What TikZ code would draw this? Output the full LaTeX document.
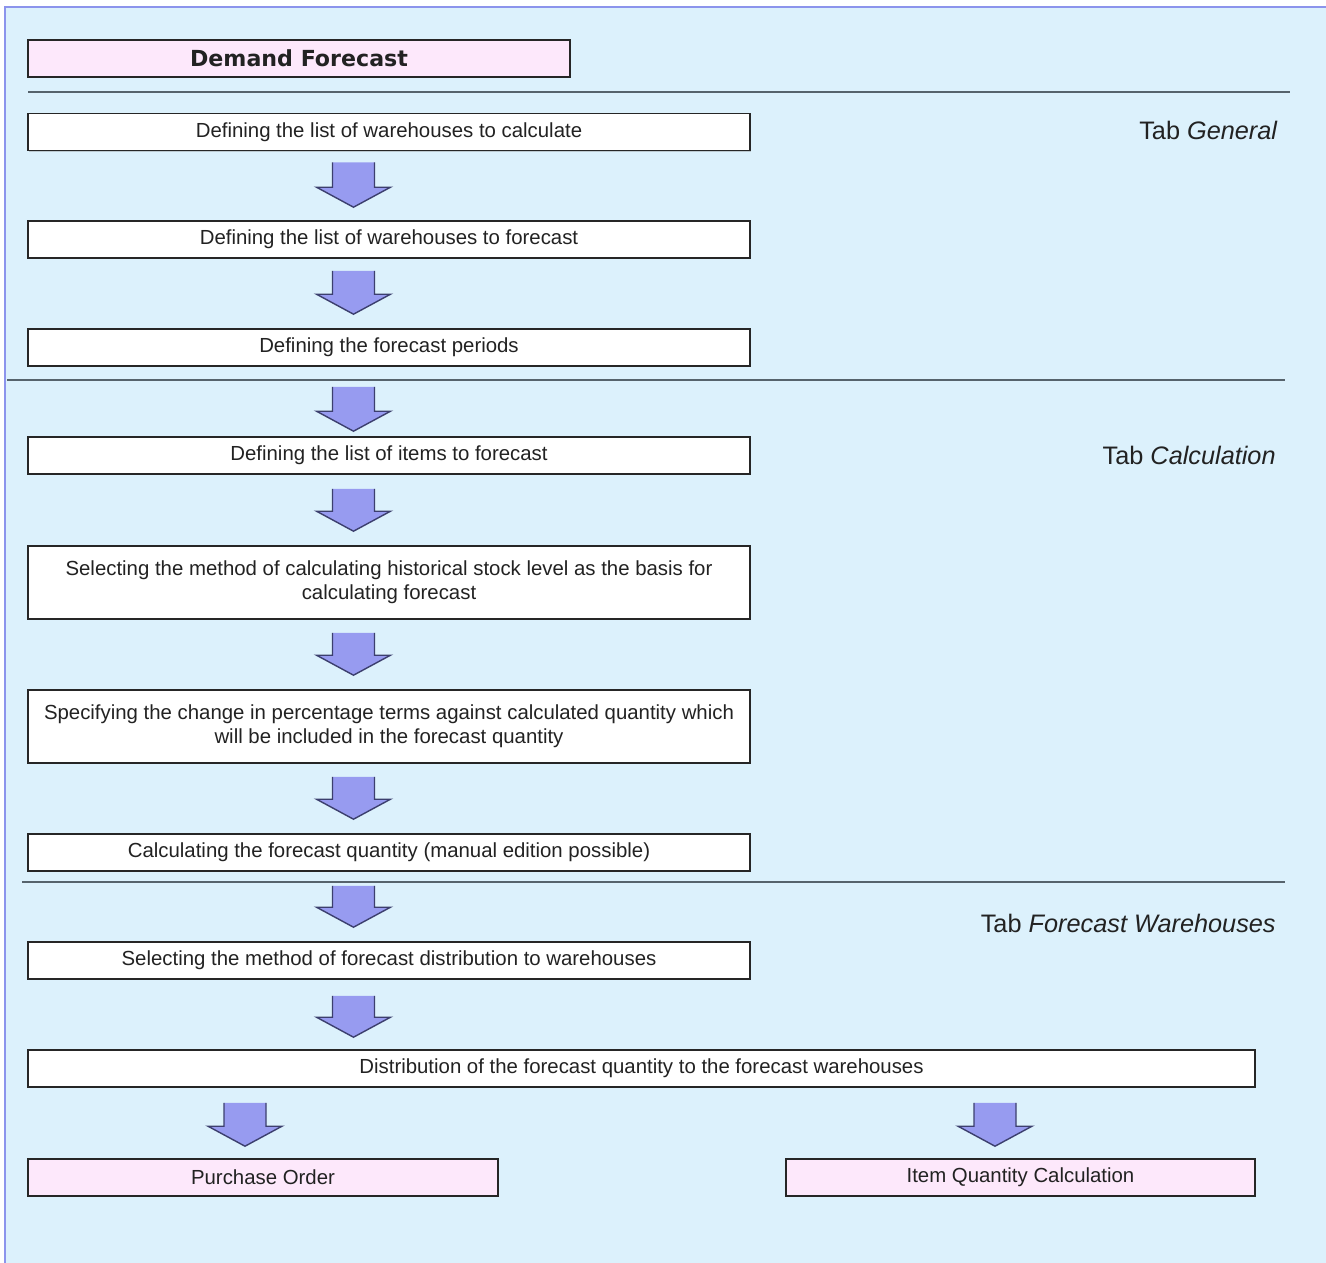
\documentclass[tikz,border=0pt]{standalone}
\usepackage{fontspec}
\setmainfont{Liberation Sans}
\newfontfamily\titlefont{DejaVu Sans}
\usepackage{xcolor}
\usetikzlibrary{calc, positioning, shadows}

\definecolor{bgblue}{HTML}{DCF1FC}
\definecolor{framebl}{HTML}{8C94EC}
\definecolor{pinkfill}{HTML}{FDE8FB}
\definecolor{arrfill}{HTML}{979BF0}
\definecolor{arrline}{HTML}{3C3F6E}
\definecolor{rulegray}{HTML}{56636C}
\definecolor{txtgray}{HTML}{222222}

\tikzset{
  taskbox/.style={draw=black!85, line width=0.9pt, fill=white, text=txtgray,
    minimum width={#1*0.02cm}, minimum height={37*0.02cm}, inner sep=2pt,
    align=center, font=\fontsize{11.6}{13.6}\selectfont,
    drop shadow={shadow xshift=0.5pt, shadow yshift=-0.8pt, opacity=0.35}},
  taskbox/.default=722,
  endbox/.style={taskbox=#1, fill=pinkfill},
  endbox/.default=470,
  tablabel/.style={anchor=east, text=txtgray, inner sep=0pt,
    font=\fontsize{14.4}{16}\selectfont},
  arrbody/.style={fill=arrfill},
  arredge/.style={draw=arrline, line width=0.8pt, line join=miter},
  sepline/.style={draw=rulegray, line width=1.7pt},
}

% block arrow: from node #1 down to node #2, in column #3, gaps #4 and #5 (px)
\newcommand{\flowarrow}[5]{%
  \coordinate (s) at ($(#1.south -| #3)+(0,#4)$);
  \coordinate (t) at ($(#2.north -| #3)+(0,-#5)$);
  \fill[arrbody] ($(s)+(-21,0)$) -- ($(t)+(-21,-20)$) -- ($(t)+(-37,-20)$) -- (t)
    -- ($(t)+(37,-20)$) -- ($(t)+(21,-20)$) -- ($(s)+(21,0)$) -- cycle;
  \draw[arredge] ($(s)+(-21,0)$) -- ($(t)+(-21,-20)$) -- ($(t)+(-37,-20)$) -- (t)
    -- ($(t)+(37,-20)$) -- ($(t)+(21,-20)$) -- ($(s)+(21,0)$);
}

\begin{document}
\begin{tikzpicture}[x=0.02cm, y=-0.02cm]
  \useasboundingbox (0,0) rectangle (1326,1263);
  \fill[bgblue] (5,7) rectangle (1326,1263);
  \draw[framebl, line width=0.8pt] (1326,7) -- (5,7) -- (5,1263);

  % title
  \node[endbox=542, font=\titlefont\bfseries\fontsize{12.6}{15}\selectfont] (title) at (299,58.5) {Demand Forecast};
  \draw[sepline] (28,92) -- (1290,92);

  % tab General
  \node[taskbox] (calcwh) at (389,132) {Defining the list of warehouses to calculate};
  \node[taskbox] (fcwh) at (389,239.5) {Defining the list of warehouses to forecast};
  \node[taskbox] (periods) at (389,347.5) {Defining the forecast periods};
  \node[tablabel] (tabgen) at (1278,130) {Tab \textit{General}};
  \draw[sepline] (7,380) -- (1285,380);

  % tab Calculation
  \node[taskbox] (items) at (389,455.5) {Defining the list of items to forecast};
  \node[taskbox, minimum height={73*0.02cm}] (method) at (389,582.5)
    {Selecting the method of calculating historical stock level as the basis for\\calculating forecast};
  \node[taskbox, minimum height={73*0.02cm}] (change) at (389,726.5)
    {Specifying the change in percentage terms against calculated quantity which\\will be included in the forecast quantity};
  \node[taskbox] (qty) at (389,852.5) {Calculating the forecast quantity (manual edition possible)};
  \node[tablabel] (tabcalc) at (1276,455) {Tab \textit{Calculation}};
  \draw[sepline] (22,882) -- (1285,882);

  % tab Forecast Warehouses
  \node[taskbox] (distmeth) at (389,960.5) {Selecting the method of forecast distribution to warehouses};
  \node[taskbox=1227] (dist) at (641.5,1068.5) {Distribution of the forecast quantity to the forecast warehouses};
  \node[tablabel] (tabfw) at (1276,923) {Tab \textit{Forecast Warehouses}};

  % targets
  \node[endbox] (po) at (263,1177.5) {Purchase Order};
  \node[endbox=469] (iqc) at (1020.5,1177.5) {Item Quantity Calculation};

  % arrow columns
  \coordinate (colA) at (353.5,0);
  \coordinate (colB) at (245,0);
  \coordinate (colC) at (995,0);

  \flowarrow{calcwh}{fcwh}{colA}{11}{13}
  \flowarrow{fcwh}{periods}{colA}{12}{14}
  \flowarrow{periods}{items}{colA}{20}{5}
  \flowarrow{items}{method}{colA}{14}{14}
  \flowarrow{method}{change}{colA}{13}{14}
  \flowarrow{change}{qty}{colA}{13}{14}
  \flowarrow{qty}{distmeth}{colA}{14}{14}
  \flowarrow{distmeth}{dist}{colA}{16}{12}
  \flowarrow{dist}{po}{colB}{15}{12}
  \flowarrow{dist}{iqc}{colC}{15}{12}
\end{tikzpicture}
\end{document}
